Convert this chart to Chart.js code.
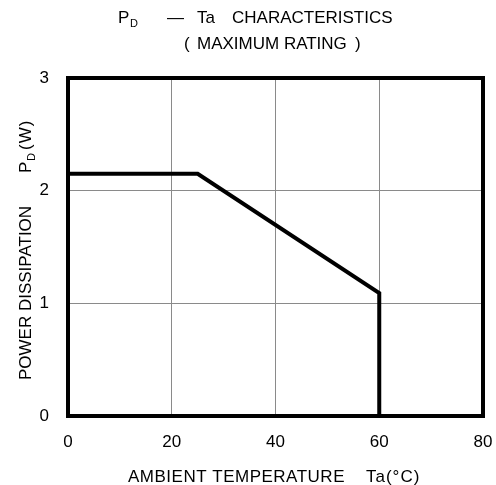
<!DOCTYPE html>
<html>
<head>
<meta charset="utf-8">
<script src="https://cdn.jsdelivr.net/npm/chart.js@4.4.0/dist/chart.umd.min.js"></script>
<style>
  html, body { margin: 0; padding: 0; background: #fff; }
  #wrap { width: 496px; height: 485px; }
</style>
</head>
<body>
<div id="wrap"><canvas id="pdChart" width="496" height="485"></canvas></div>
<script>
// derating curve
var temps = [0, 25, 60, 60];
var power = [2.15, 2.15, 1.09, 0];

var xTicks = [0, 20, 40, 60, 80];
var yTicks = [0, 1, 2, 3];

var FONT = "'Liberation Sans', Arial, sans-serif";

function txt(ctx, s, x, y, size, ls) {
  ctx.font = size + 'px ' + FONT;
  ctx.letterSpacing = (ls || 0) + 'px';
  ctx.fillText(s, x, y);
}

var labelsPlugin = {
  id: 'labels',
  afterDraw: function(chart) {
    var ctx = chart.ctx;
    var a = chart.chartArea;
    ctx.save();

    // frame
    ctx.strokeStyle = '#000';
    ctx.lineWidth = 4;
    ctx.strokeRect(a.left, a.top, a.right - a.left, a.bottom - a.top);

    ctx.fillStyle = '#000';
    ctx.textBaseline = 'alphabetic';
    ctx.textAlign = 'left';

    // title
    txt(ctx, 'P', 118, 23, 17);
    txt(ctx, 'D', 130, 27, 11);
    txt(ctx, '\u2014', 167, 23, 17);
    txt(ctx, 'Ta', 197, 23, 17);
    txt(ctx, 'CHARACTERISTICS', 232, 23, 17);
    txt(ctx, '(', 184, 49, 17);
    txt(ctx, 'MAXIMUM RATING', 197, 49, 17);
    txt(ctx, ')', 355, 49, 17);

    // x axis title
    txt(ctx, 'AMBIENT TEMPERATURE', 128, 482, 17, 0.5);
    txt(ctx, 'Ta(\u00B0C)', 366, 482, 17, 1);

    // y axis title
    ctx.translate(31, 380);
    ctx.rotate(-Math.PI / 2);
    txt(ctx, 'POWER DISSIPATION', 0, 0, 17);
    txt(ctx, 'P', 207, 0, 17);
    txt(ctx, 'D', 219, 4, 11);
    txt(ctx, '(W)', 230, 0, 17, 1);

    ctx.restore();
  }
};

var ctxL = document.getElementById('pdChart').getContext('2d');
var myChart = new Chart(ctxL, {
  type: 'line',
  data: {
    labels: temps,
    datasets: [{
      label: 'PD',
      data: temps.map(function(t, i) { return {x: t, y: power[i]}; }),
      borderColor: '#000',
      borderWidth: 4,
      pointRadius: 0,
      tension: 0,
      fill: false
    }]
  },
  options: {
    responsive: false,
    animation: false,
    layout: { padding: { left: 0, top: 78, right: 0, bottom: 0 } },
    plugins: { legend: { display: false }, tooltip: { enabled: false } },
    scales: {
      x: {
        type: 'linear',
        min: 0, max: 80,
        afterBuildTicks: function(s) { s.ticks = xTicks.map(function(v) { return {value: v}; }); },
        afterFit: function(s) { s.height = 69; s.paddingRight = 13; },
        grid: { color: '#8a8a8a', lineWidth: 1, drawTicks: false, tickLength: 0 },
        border: { display: false },
        ticks: { color: '#000', font: { family: FONT, size: 17 }, padding: 16, maxRotation: 0 }
      },
      y: {
        min: 0, max: 3,
        afterBuildTicks: function(s) { s.ticks = yTicks.map(function(v) { return {value: v}; }); },
        afterFit: function(s) { s.width = 68; },
        grid: { color: '#8a8a8a', lineWidth: 1, drawTicks: false, tickLength: 0 },
        border: { display: false },
        ticks: { color: '#000', font: { family: FONT, size: 17 }, padding: 19 }
      }
    }
  },
  plugins: [labelsPlugin]
});
</script>
</body>
</html>
